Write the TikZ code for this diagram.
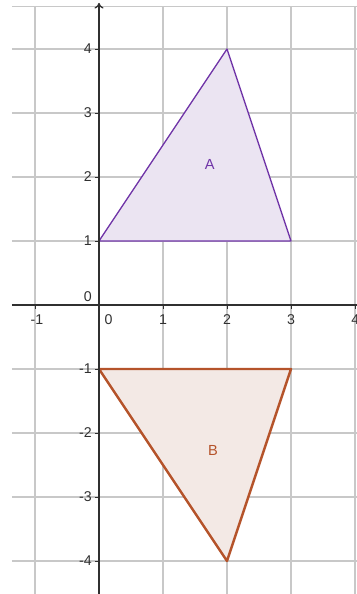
\documentclass[tikz,border=0pt]{standalone}
\usepackage{fontspec}
\setmainfont{Liberation Sans}
\usetikzlibrary{arrows.meta}
\definecolor{gridgray}{HTML}{C8C8C8}
\definecolor{axisc}{HTML}{303030}
\definecolor{purpA}{HTML}{7035A8}
\definecolor{fillA}{HTML}{EBE4F2}
\definecolor{brownB}{HTML}{B5532A}
\definecolor{fillB}{HTML}{F3E9E5}
\tikzset{
  gridline/.style={gridgray, line width=0.5pt},
  axisline/.style={axisc, line width=0.6pt},
  ticklab/.style={font=\fontsize{6.3}{7}\selectfont, text=axisc, inner sep=1pt},
  triA/.style={draw=purpA, fill=fillA, line width=0.6pt, line join=round},
  triB/.style={draw=brownB, fill=fillB, line width=1.1pt, line join=round},
  labA/.style={font=\fontsize{6.5}{7}\selectfont, text=purpA},
  labB/.style={font=\fontsize{6.5}{7}\selectfont, text=brownB},
}
\begin{document}
\begin{tikzpicture}
\useasboundingbox (-1.547,-4.516) rectangle (4.031,4.766);
% grid
\foreach \x in {-1,0,1,2,3,4} \draw[gridline] (\x,-4.6) -- (\x,4.66);
\foreach \y in {-4,...,4} \draw[gridline] (-1.36,\y) -- (4.1,\y);
\draw[gridline] (-1.36,4.66) -- (4.1,4.66);
% triangles
\coordinate (a1) at (0,1); \coordinate (a2) at (2,4); \coordinate (a3) at (3,1);
\coordinate (b1) at (0,-1); \coordinate (b2) at (3,-1); \coordinate (b3) at (2,-4);
\draw[triA] (a1) -- (a2) -- (a3) -- cycle;
\draw[triB] (b1) -- (b2) -- (b3) -- cycle;
\node[labA] (A) at (1.73,2.2) {A};
\node[labB] (B) at (1.78,-2.27) {B};
% axes
\coordinate (xs) at (-1.36,0); \coordinate (xe) at (4.1,0);
\coordinate (ys) at (0,-4.6); \coordinate (ye) at (0,4.72);
\draw[axisline] (xs) -- (xe);
\draw[axisline, -{To[length=2.5pt,width=4pt]}] (ys) -- (ye);
% ticks
\foreach \x in {-1,1,2,3,4} \draw[axisline, line width=0.4pt] (\x,0) -- (\x,-0.06);
\foreach \y in {-4,-3,-2,-1,1,2,3,4} \draw[axisline, line width=0.4pt] (0,\y) -- (-0.06,\y);
% tick labels
\node[ticklab] (xm1) at (-0.97,-0.23) {-1};
\node[ticklab] (x0) at (0.15,-0.23) {0};
\node[ticklab] (x1) at (1,-0.23) {1};
\node[ticklab] (x2) at (2,-0.23) {2};
\node[ticklab] (x3) at (3,-0.23) {3};
\node[ticklab, anchor=west] (x4) at (3.9,-0.23) {4};
\node[ticklab, anchor=east] (y0) at (-0.07,0.13) {0};
\foreach \y in {1,2,3,4} \node[ticklab, anchor=east] (y\y) at (-0.07,\y) {\y};
\foreach \y in {-1,-2,-3,-4} \node[ticklab, anchor=east] (ym\y) at (-0.07,\y) {\y};
\end{tikzpicture}
\end{document}
